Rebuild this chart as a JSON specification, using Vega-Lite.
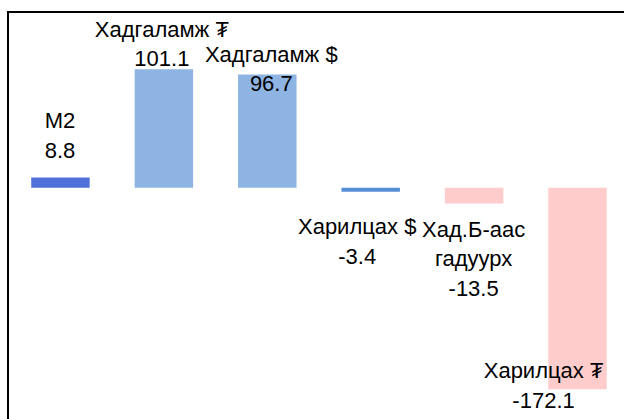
{
  "$schema": "https://vega.github.io/schema/vega-lite/v6.json",
  "width": 622,
  "height": 410,
  "autosize": "none",
  "padding": {"left": 8, "top": 12, "right": 0, "bottom": 0},
  "background": "white",
  "config": {
    "view": {"stroke": "black", "strokeWidth": 2},
    "text": {"font": "Liberation Sans", "fontSize": 22, "lineHeight": 29.5, "lineBreak": "\n", "color": "black", "align": "center", "baseline": "alphabetic"}
  },
  "data": {
    "values": [
      {"cat": "M2", "value": 8.8, "label": "М2\n8.8"},
      {"cat": "HadgT", "value": 101.1, "label": "Хадгаламж ₮\n101.1"},
      {"cat": "HadgD", "value": 96.7, "label": "Хадгаламж $\n96.7"},
      {"cat": "HarD", "value": -3.4, "label": "Харилцах $\n-3.4"},
      {"cat": "HadB", "value": -13.5, "label": "Хад.Б-аас\nгадуурх\n-13.5"},
      {"cat": "HarT", "value": -172.1, "label": "Харилцах ₮\n-172.1"}
    ]
  },
  "encoding": {
    "x": {
      "field": "cat",
      "type": "nominal",
      "sort": null,
      "axis": null,
      "scale": {"paddingInner": 0.4348, "paddingOuter": 0.2246}
    },
    "y": {
      "field": "value",
      "type": "quantitative",
      "axis": null,
      "scale": {"domain": [-200, 150], "nice": false, "zero": false}
    }
  },
  "layer": [
    {
      "mark": {"type": "bar"},
      "encoding": {
        "y2": {"datum": 0},
        "color": {
          "field": "cat",
          "type": "nominal",
          "legend": null,
          "scale": {
            "domain": ["M2", "HadgT", "HadgD", "HarD", "HadB", "HarT"],
            "range": ["#4F71D9", "#8EB4E3", "#8EB4E3", "#558ED5", "#FFCCCC", "#FFCCCC"]
          }
        }
      }
    },
    {
      "transform": [{"filter": "datum.cat == 'M2'"}],
      "mark": {"type": "text", "dx": -0.5, "dy": -49},
      "encoding": {"text": {"field": "label"}}
    },
    {
      "transform": [{"filter": "datum.cat == 'HadgT'"}],
      "mark": {"type": "text", "dx": -2, "dy": -32.6},
      "encoding": {"text": {"field": "label"}}
    },
    {
      "transform": [{"filter": "datum.cat == 'HadgD'"}],
      "mark": {"type": "text", "dx": 4, "dy": -12.7},
      "encoding": {"text": {"field": "label"}}
    },
    {
      "transform": [{"filter": "datum.cat == 'HarD'"}],
      "mark": {"type": "text", "dx": -13.5, "dy": 42.6},
      "encoding": {"text": {"field": "label"}}
    },
    {
      "transform": [{"filter": "datum.cat == 'HadB'"}],
      "mark": {"type": "text", "dx": -0.5, "dy": 33.2},
      "encoding": {"text": {"field": "label"}}
    },
    {
      "transform": [{"filter": "datum.cat == 'HarT'"}],
      "mark": {"type": "text", "dx": -34, "dy": -11},
      "encoding": {"text": {"field": "label"}}
    }
  ]
}
